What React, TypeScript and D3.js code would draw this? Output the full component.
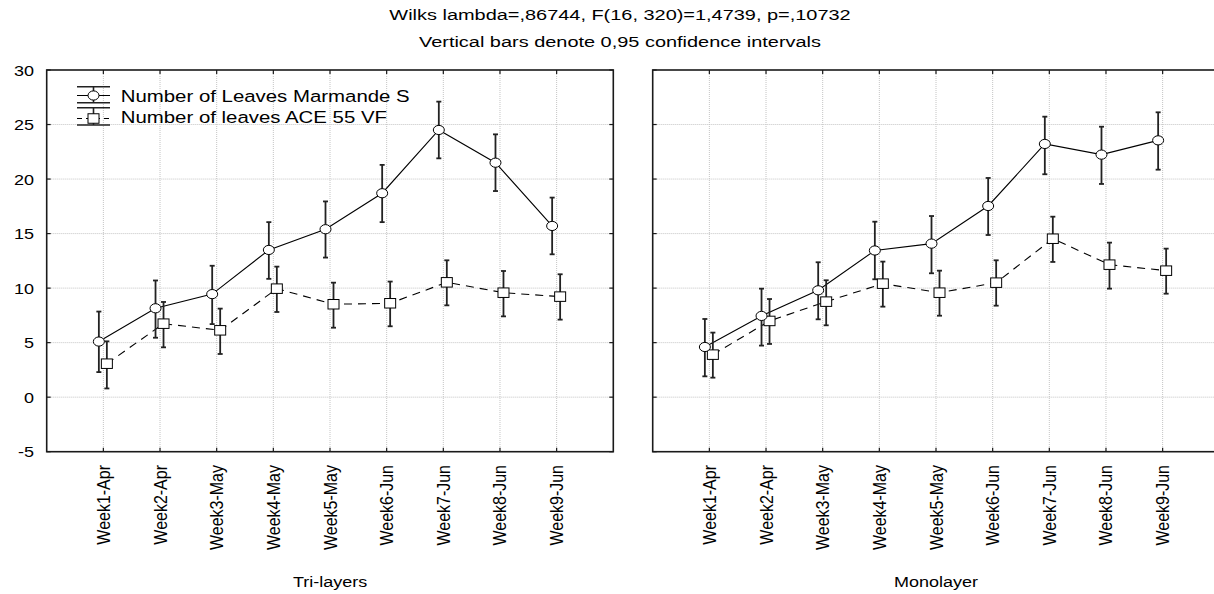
import React from "react";
import * as d3 from "d3";

const categories = ["Week1-Apr", "Week2-Apr", "Week3-May", "Week4-May", "Week5-May", "Week6-Jun", "Week7-Jun", "Week8-Jun", "Week9-Jun"];
const yTicks = [-5, 0, 5, 10, 15, 20, 25, 30];

const triMarmande = [5.1, 8.15, 9.45, 13.5, 15.4, 18.7, 24.5, 21.5, 15.7];
const triMarmandeLow = [2.3, 5.45, 6.7, 10.85, 12.8, 16.05, 21.9, 18.9, 13.1];
const triMarmandeHigh = [7.85, 10.7, 12.05, 16.05, 17.95, 21.3, 27.1, 24.1, 18.3];
const triAce = [3.07, 6.74, 6.13, 9.95, 8.52, 8.61, 10.53, 9.58, 9.22];
const triAceLow = [0.8, 4.57, 3.96, 7.81, 6.37, 6.5, 8.42, 7.41, 7.11];
const triAceHigh = [5.12, 8.73, 8.12, 11.97, 10.5, 10.6, 12.55, 11.57, 11.27];

const monoMarmande = [4.6, 7.45, 9.8, 13.45, 14.08, 17.53, 23.22, 22.24, 23.55];
const monoMarmandeLow = [1.91, 4.73, 7.14, 10.81, 11.36, 14.87, 20.44, 19.55, 20.86];
const monoMarmandeHigh = [7.17, 9.95, 12.37, 16.09, 16.61, 20.1, 25.72, 24.8, 26.12];
const monoAce = [3.9, 6.99, 8.76, 10.41, 9.58, 10.5, 14.53, 12.15, 11.6];
const monoAceLow = [1.79, 4.88, 6.59, 8.3, 7.47, 8.39, 12.4, 9.95, 9.49];
const monoAceHigh = [5.92, 9.0, 10.72, 12.43, 11.6, 12.55, 16.55, 14.17, 13.62];

const seriesNames = ["Number of Leaves Marmande S", "Number of leaves ACE 55 VF"];
const panelNames = ["Tri-layers", "Monolayer"];
const titleLines = ["Wilks lambda=,86744, F(16, 320)=1,4739, p=,10732", "Vertical bars denote 0,95 confidence intervals"];

const FONT = "Arial, 'Liberation Sans', sans-serif";
const SX = 1.2;

function ST({ x, y, size, anchor = "start", rot = 0, baseline, sx = SX, children }: any) {
  return (
    <text
      transform={`translate(${x},${y}) scale(${sx},1) rotate(${rot})`}
      fontSize={size}
      fontFamily={FONT}
      textAnchor={anchor}
      dominantBaseline={baseline}
      fill="#000"
    >
      {children}
    </text>
  );
}

const Y0 = 70;
const Y1 = 451.7;
const y = d3.scaleLinear().domain([-5, 30]).range([Y1, Y0]);

function Panel({ x0, x1, name, circ, circLo, circHi, sq, sqLo, sqHi, showY, legend }: any) {
  const x = d3.scalePoint<string>().domain(categories).range([x0, x1]).padding(1);
  const dC = -4.5;
  const dS = 3.5;
  const lineC = d3.line<number>().x((_, i) => (x(categories[i]) as number) + dC).y((v) => y(v));
  const lineS = d3.line<number>().x((_, i) => (x(categories[i]) as number) + dS).y((v) => y(v));
  const grid = "#c4c4c4";
  const frame = "#1a1a1a";
  return (
    <g>
      {categories.map((c) => (
        <line key={"gv" + c} x1={x(c)} x2={x(c)} y1={Y0} y2={Y1} stroke={grid} strokeDasharray="1,1" />
      ))}
      {yTicks.slice(1, -1).map((t) => (
        <line key={"gh" + t} x1={x0} x2={x1} y1={y(t)} y2={y(t)} stroke={grid} strokeDasharray="1,1" />
      ))}
      {categories.map((c) => (
        <g key={"tk" + c}>
          <line x1={x(c)} x2={x(c)} y1={Y1} y2={Y1 - 4} stroke={frame} strokeWidth={1.2} />
          <line x1={x(c)} x2={x(c)} y1={Y0} y2={Y0 + 4} stroke={frame} strokeWidth={1.2} />
        </g>
      ))}
      {yTicks.map((t) => (
        <g key={"ty" + t}>
          <line x1={x0} x2={x0 + 4} y1={y(t)} y2={y(t)} stroke={frame} strokeWidth={1.2} />
          <line x1={x1} x2={x1 - 4} y1={y(t)} y2={y(t)} stroke={frame} strokeWidth={1.2} />
        </g>
      ))}
      <rect x={x0} y={Y0} width={x1 - x0} height={Y1 - Y0} fill="none" stroke={frame} strokeWidth={1.6} />
      <path d={lineS(sq) as string} fill="none" stroke="#000" strokeWidth={1.1} strokeDasharray="8,6" />
      <path d={lineC(circ) as string} fill="none" stroke="#000" strokeWidth={1.1} />
      {[
        { v: circ, lo: circLo, hi: circHi, d: dC },
        { v: sq, lo: sqLo, hi: sqHi, d: dS },
      ].map((s, si) =>
        s.v.map((_: number, i: number) => {
          const cx = (x(categories[i]) as number) + s.d;
          return (
            <g key={"eb" + si + i} stroke="#222" strokeWidth={1.8}>
              <line x1={cx} x2={cx} y1={y(s.lo[i])} y2={y(s.hi[i])} />
              <line x1={cx - 2.5} x2={cx + 2.5} y1={y(s.lo[i])} y2={y(s.lo[i])} />
              <line x1={cx - 2.5} x2={cx + 2.5} y1={y(s.hi[i])} y2={y(s.hi[i])} />
            </g>
          );
        })
      )}
      {sq.map((v: number, i: number) => (
        <rect key={"sq" + i} x={(x(categories[i]) as number) + dS - 5.5} y={y(v) - 4.75} width={11} height={9.5} fill="#fff" stroke="#000" strokeWidth={1} />
      ))}
      {circ.map((v: number, i: number) => (
        <ellipse key={"c" + i} cx={(x(categories[i]) as number) + dC} cy={y(v)} rx={5.5} ry={4.6} fill="#fff" stroke="#000" strokeWidth={1} />
      ))}
      {categories.map((c) => (
        <ST key={"xl" + c} x={x(c)} y={465} size={16} anchor="end" rot={-90} baseline="central">
          {c}
        </ST>
      ))}
      <ST x={(x0 + x1) / 2} y={587} size={15} anchor="middle">
        {name}
      </ST>
      {showY &&
        yTicks.map((t) => (
          <ST key={"yl" + t} x={34} y={y(t) + 5.5} size={15} anchor="end">
            {String(t)}
          </ST>
        ))}
      {legend && (
        <g>
          <g stroke="#222">
            <line x1={77} x2={110} y1={86.7} y2={86.7} strokeWidth={1.6} />
            <line x1={77} x2={110} y1={102.7} y2={102.7} strokeWidth={1.6} />
            <line x1={93.5} x2={93.5} y1={86.7} y2={102.7} strokeWidth={1.6} />
            <line x1={77} x2={110} y1={95.5} y2={95.5} stroke="#000" strokeWidth={1.1} />
          </g>
          <ellipse cx={93.5} cy={95.5} rx={5.5} ry={4.6} fill="#fff" stroke="#000" />
          <ST x={120.7} y={101.5} size={17}>
            {seriesNames[0]}
          </ST>
          <g stroke="#222">
            <line x1={77} x2={110} y1={107.7} y2={107.7} strokeWidth={1.6} />
            <line x1={77} x2={110} y1={125} y2={125} strokeWidth={1.6} />
            <line x1={93.5} x2={93.5} y1={107.7} y2={125} strokeWidth={1.6} />
            <line x1={77} x2={110} y1={118.5} y2={118.5} stroke="#000" strokeWidth={1.1} strokeDasharray="5,4" />
          </g>
          <rect x={88} y={113.75} width={11} height={9.5} fill="#fff" stroke="#000" />
          <ST x={120.7} y={122.5} size={17}>
            {seriesNames[1]}
          </ST>
        </g>
      )}
    </g>
  );
}

export default function App() {
  return (
    <svg width={1214} height={594} style={{ position: "absolute", left: 0, top: 0, background: "#fff" }}>
      <rect x={0} y={0} width={1214} height={594} fill="#fff" />
      <ST x={620} y={20} size={15} sx={1.33} anchor="middle">
        {titleLines[0]}
      </ST>
      <ST x={620} y={47} size={15} sx={1.33} anchor="middle">
        {titleLines[1]}
      </ST>
      <Panel
        x0={46.7}
        x1={613.3}
        name={panelNames[0]}
        circ={triMarmande}
        circLo={triMarmandeLow}
        circHi={triMarmandeHigh}
        sq={triAce}
        sqLo={triAceLow}
        sqHi={triAceHigh}
        showY
        legend
      />
      <Panel
        x0={652.7}
        x1={1219.3}
        name={panelNames[1]}
        circ={monoMarmande}
        circLo={monoMarmandeLow}
        circHi={monoMarmandeHigh}
        sq={monoAce}
        sqLo={monoAceLow}
        sqHi={monoAceHigh}
      />
    </svg>
  );
}
